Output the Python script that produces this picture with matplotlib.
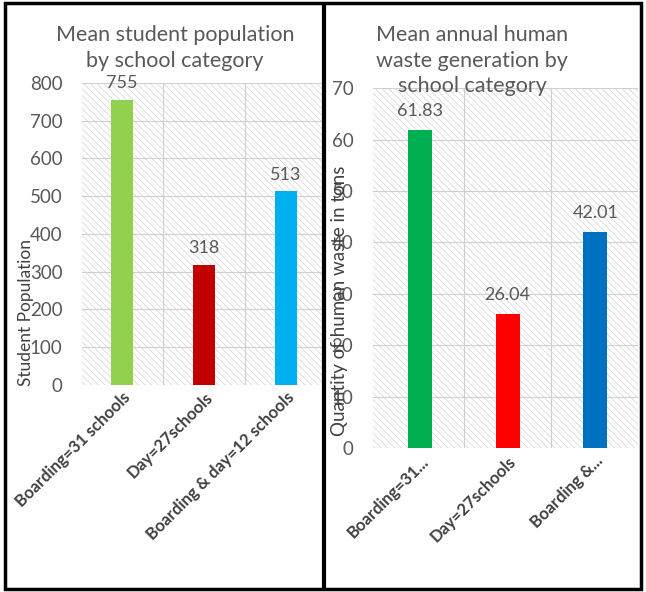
import matplotlib.pyplot as plt
from matplotlib.patches import Rectangle

# data
categories_left = ['Boarding=31 schools', 'Day=27schools', 'Boarding & day=12 schools']
population = [755, 318, 513]
colors_left = ['#92D050', '#C00000', '#00B0F0']

categories_right = ['Boarding=31...', 'Day=27schools', 'Boarding &...']
waste_tons = [61.83, 26.04, 42.01]
value_labels_right = ['61.83', '26.04', '42.01']
colors_right = ['#00B050', '#FF0000', '#0070C0']

plt.rcParams['font.family'] = ['Lato', 'DejaVu Sans']
plt.rcParams['hatch.color'] = '#D2D2D2'
plt.rcParams['hatch.linewidth'] = 0.5

grey = '#595959'

fig = plt.figure(figsize=(6.46, 5.92), dpi=100)


# Function to style one panel (hatched background, grey grid)
def style_axes(ax, ymax, step):
    ax.set_ylim(0, ymax)
    ax.set_yticks(range(0, ymax + 1, step))
    ax.patch.set_facecolor('white')
    ax.patch.set_hatch('\\\\\\\\\\')
    ax.patch.set_edgecolor('#D2D2D2')
    for s in ax.spines.values():
        s.set_visible(False)
    ax.set_axisbelow(True)
    ax.grid(axis='y', color='#D0D0D0', linewidth=0.8)
    for xv in [0.5, 1.5]:
        ax.axvline(xv, color='#D0D0D0', linewidth=0.8, zorder=0.5)
    ax.tick_params(axis='both', length=0, colors=grey, labelsize=13.5)
    ax.tick_params(axis='y', pad=14)


# left panel
ax1 = fig.add_axes([0.127, 0.350, 0.373, 0.510])
ax1.bar(range(3), population, width=0.27, color=colors_left, zorder=2)
style_axes(ax1, 800, 100)
ax1.set_xlim(-0.49, 2.45)
ax1.set_xticks(range(3))
ax1.set_xticklabels(categories_left, rotation=45, ha='right', rotation_mode='anchor',
                    fontsize=12, color='#404040', fontweight='bold')
for i, v in enumerate(population):
    ax1.annotate(str(v), (i, v), xytext=(0, 12), textcoords='offset points',
                 ha='center', va='center', fontsize=13, color=grey)
ax1.set_ylabel('Student Population', fontsize=12.5, color='#404040')
ax1.yaxis.set_label_coords(-0.2, 0.24)
fig.text(0.271, 0.957, 'Mean student population\nby school category', ha='center', va='top',
         fontsize=15.5, color=grey, linespacing=1.32)

# right panel
ax2 = fig.add_axes([0.577, 0.243, 0.411, 0.608])
ax2.bar(range(3), waste_tons, width=0.27, color=colors_right, zorder=2)
style_axes(ax2, 70, 10)
ax2.set_xlim(-0.54, 2.49)
ax2.set_xticks(range(3))
ax2.set_xticklabels(categories_right, rotation=45, ha='right', rotation_mode='anchor',
                    fontsize=12, color='#404040', fontweight='bold')
for i, v in enumerate(waste_tons):
    ax2.annotate(value_labels_right[i], (i, v), xytext=(0, 14), textcoords='offset points',
                 ha='center', va='center', fontsize=13, color=grey)
ax2.set_ylabel('Quantity of human waste in tons', fontsize=13.5, color='#404040')
ax2.yaxis.set_label_coords(-0.095, 0.41)
fig.text(0.731, 0.957, 'Mean annual human\nwaste generation by\nschool category', ha='center', va='top',
         fontsize=15.5, color=grey, linespacing=1.32)

# black frame and divider
fig.patches.append(Rectangle((0.008, 0.005), 0.984, 0.99, transform=fig.transFigure,
                             fill=False, edgecolor='black', linewidth=2.5))
fig.patches.append(Rectangle((0.502, 0.005), 0.0, 0.99, transform=fig.transFigure,
                             fill=False, edgecolor='black', linewidth=3))

fig.savefig('out.png', dpi=100)
